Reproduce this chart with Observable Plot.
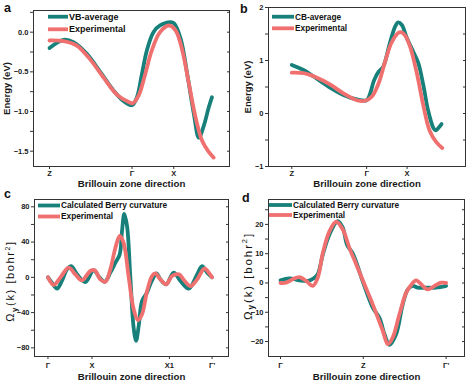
<!DOCTYPE html>
<html><head><meta charset="utf-8">
<script src="https://cdn.jsdelivr.net/npm/d3@7"></script>
<script src="https://cdn.jsdelivr.net/npm/@observablehq/plot@0.6"></script>
<style>
body{margin:0;background:#fff;}
#fig{position:relative;width:472px;height:387px;overflow:hidden;font-family:"Liberation Sans",Arial,sans-serif;}
#fig svg{position:absolute;}
</style></head><body><div id="fig"></div>
<script>
const TEAL = "#17807a", RED = "#f07070", AXIS = "#333";

// ---- Panel a: VB-average vs experimental (energy, eV) ----
const aKPos = [0, 1, 1.506];
const aKLab = ["Z", "Γ", "X"];
const aYMajor = [0, -0.5, -1.0, -1.5];
const aYMinor = [0.25, -0.25, -0.75, -1.25];
const vbK = [0, 0.17, 0.29, 0.45, 0.615, 0.78, 0.90, 1.0, 1.06, 1.12, 1.18, 1.26, 1.34, 1.47, 1.51, 1.59, 1.67, 1.75, 1.81, 1.87, 1.93, 1.97];
const vbE = [-0.20, -0.097, -0.126, -0.27, -0.50, -0.74, -0.87, -0.92, -0.82, -0.53, -0.23, 0.0, 0.084, 0.126, 0.11, -0.084, -0.53, -1.03, -1.33, -1.18, -0.95, -0.82];
const expAK = [0, 0.17, 0.33, 0.49, 0.66, 0.82, 0.96, 1.01, 1.08, 1.16, 1.24, 1.34, 1.45, 1.53, 1.61, 1.69, 1.77, 1.85, 1.93, 1.99];
const expAE = [-0.105, -0.113, -0.17, -0.34, -0.58, -0.79, -0.88, -0.895, -0.80, -0.53, -0.23, 0.0, 0.084, 0.02, -0.23, -0.65, -1.07, -1.37, -1.51, -1.58];

// ---- Panel b: CB-average vs experimental ----
const bKPos = [0, 1, 1.54];
const bKLab = ["Z", "Γ", "X"];
const bYMajor = [2, 1, 0, -1];
const bYMinor = [1.5, 0.5, -0.5];
const cbK = [0, 0.156, 0.33, 0.51, 0.69, 0.87, 1.0, 1.04, 1.10, 1.16, 1.22, 1.31, 1.38, 1.42, 1.47, 1.53, 1.62, 1.69, 1.76, 1.82, 1.89, 1.92, 1.96, 2.0];
const cbE = [0.916, 0.82, 0.66, 0.49, 0.35, 0.265, 0.25, 0.35, 0.63, 0.79, 0.88, 1.33, 1.64, 1.72, 1.67, 1.45, 1.17, 0.95, 0.51, 0.06, -0.27, -0.32, -0.27, -0.20];
const expBK = [0, 0.156, 0.33, 0.51, 0.69, 0.87, 0.98, 1.07, 1.16, 1.24, 1.33, 1.42, 1.46, 1.51, 1.58, 1.67, 1.76, 1.84, 1.93, 2.01];
const expBE = [0.77, 0.76, 0.68, 0.55, 0.38, 0.25, 0.24, 0.32, 0.57, 0.95, 1.33, 1.52, 1.535, 1.48, 1.26, 0.76, 0.13, -0.32, -0.54, -0.65];

// ---- Panel c: Berry curvature Γ–X–X1–Γ' ----
const cKPos = [0, 26.8, 74, 100];
const cKLab = ["Γ", "X", "X1", "Γ'"];
const cYMajor = [80, 40, 0, -40, -80];
const cYMinor = [60, 20, -20, -60];
const berryCK = [0, 2.4, 5.5, 8.5, 11.6, 14.2, 17.7, 22.8, 27.8, 31.5, 34.6, 38.0, 41.1, 43.7, 45.1, 46.5, 48.2, 50.2, 52.2, 53.7, 55.3, 57.3, 60.4, 63.4, 66.1, 68.5, 72, 76.6, 80.7, 85.8, 90.9, 93.9, 97, 100];
const berryCV = [0, -6, -12.8, -4, 9, 12.8, 3.4, -5.3, 8, -0.4, -5, 5.3, 16.6, 26, 52, 72, 58, 0, -57, -72, -55, -27, -17, -3.4, 4.5, -2.3, -8, 5.3, -4, -12.8, 3.4, 12.8, 5.3, 0];
const expCK = [0, 3.5, 7.5, 12.6, 16.7, 20.7, 25.8, 28.5, 31.9, 35, 38.0, 41.1, 43.7, 46.1, 49.2, 52.2, 54.9, 57.3, 60.4, 63.4, 65.4, 68.5, 72, 75.6, 79.7, 83.7, 86.8, 90.9, 95.3, 98, 100];
const expCV = [0, -8.5, -0.4, 11, 3.4, -3.4, 7.2, 8, -2.3, -5, 9, 33.6, 47, 39, 0, -36, -48.7, -42, -15.5, 1.5, 4.5, -2.3, -8, 1.5, 3.4, -5, -10, -2.3, 10, 5.3, 0];

// ---- Panel d: Berry curvature Γ–Z–Γ' ----
const dKPos = [0, 50, 100];
const dKLab = ["Γ", "Z", "Γ'"];
const dYMajor = [20, 10, 0, -10, -20];
const dYMinor = [25, 15, 5, -5, -15];
const berryDK = [0, 5.4, 11.5, 16.5, 20.1, 22.5, 25.6, 29.6, 34.6, 37.6, 40.2, 43.7, 49.7, 55.7, 59.8, 62.8, 65.8, 69.8, 73.8, 76.9, 79.9, 82.9, 87.9, 93.9, 100];
const berryDV = [0.9, 1.6, 0.9, 0.7, 1.6, 3, 9.8, 16.6, 21.1, 18.9, 13, 10, 0.5, -8.4, -12, -17.5, -21.1, -17.5, -7.3, -2.2, -1, -1.6, -1.6, -1.6, -1];
const expDK = [0, 3.4, 7.4, 11.5, 15.5, 19.5, 22.5, 25.6, 29.6, 33.6, 37.6, 41.6, 45.7, 49.7, 55.7, 61.8, 64.8, 67.8, 71.8, 75.9, 78.9, 81.9, 85.9, 88.9, 93.9, 96.9, 100];
const expDV = [0, 0.1, 1.3, 2, 0.7, -1, 1.8, 10.3, 17.7, 20.9, 18.3, 12, 6.4, 0.9, -7.3, -16.4, -20.9, -18.6, -10.7, -3.3, -0.7, 0.9, -1, -2.2, -0.7, 0.1, 0];

const xTitle = "Brillouin zone direction";
const zip = (a, b) => a.map((v, i) => [v, b[i]]);
const fig = document.getElementById("fig");

function makePanel(o) {
  const p = Plot.plot({
    width: o.w, height: o.h,
    marginLeft: o.ml, marginRight: o.mr, marginTop: o.mt, marginBottom: o.mb,
    style: {fontFamily: '"Liberation Sans", Arial, sans-serif', fontWeight: "bold", color: "#1a1a1a", background: "transparent", overflow: "visible"},
    x: {domain: o.xDom},
    y: {domain: o.yDom},
    marks: [
      Plot.frame({stroke: AXIS, strokeWidth: 1}),
      Plot.axisY({ticks: o.yMajor, tickSize: 3, tickPadding: 2, stroke: AXIS, tickFormat: o.yFmt, fontSize: 7.5, label: null}),
      Plot.axisY({ticks: o.yMinor, tickSize: 3, stroke: AXIS, fill: "none"}),
      Plot.axisY({anchor: "right", ticks: o.yMajor.concat(o.yMinor), tickSize: 3, dx: -3, stroke: AXIS, fill: "none"}),
      Plot.axisX({ticks: o.kPos, tickSize: 3, tickPadding: o.xPad, stroke: AXIS, tickFormat: d => o.kLab[o.kPos.indexOf(d)], fontSize: 7.5, label: null}),
      Plot.axisX({ticks: [], tickSize: 0, label: xTitle, labelAnchor: "center", labelOffset: o.xLabOff, labelArrow: "none", fontSize: 9.7}),
      o.yLabel ? Plot.axisY({ticks: [], tickSize: 0, label: o.yLabel, labelAnchor: "center", labelOffset: o.yLabOff, labelArrow: "none", fontSize: 9.5}) : null,
      Plot.line(zip(o.k1, o.v1), {stroke: TEAL, strokeWidth: 3.8, curve: "catmull-rom"}),
      Plot.line(zip(o.k2, o.v2), {stroke: RED, strokeWidth: 3.8, curve: "catmull-rom"})
    ]
  });
  p.style.left = o.left + "px";
  p.style.top = o.top + "px";
  fig.appendChild(p);
  return p;
}

makePanel({left: 0, top: 0, w: 236, h: 194, ml: 33, mr: 7, mt: 10, mb: 28,
  xDom: [-0.194, 2.182], yDom: [-1.693, 0.273], yMajor: aYMajor, yMinor: aYMinor, yFmt: d3.format(".1f"),
  kPos: aKPos, kLab: aKLab, xPad: 1, xLabOff: 20, yLabel: "Energy (eV)", yLabOff: 30,
  k1: vbK, v1: vbE, k2: expAK, v2: expAE});
makePanel({left: 236, top: 0, w: 236, h: 194, ml: 32, mr: 7, mt: 7, mb: 28,
  xDom: [-0.311, 2.32], yDom: [-1, 2], yMajor: bYMajor, yMinor: bYMinor, yFmt: d3.format("d"),
  kPos: bKPos, kLab: bKLab, xPad: 1, xLabOff: 20, yLabel: "Energy (eV)", yLabOff: 24,
  k1: cbK, v1: cbE, k2: expBK, v2: expBE});
makePanel({left: 0, top: 194, w: 236, h: 193, ml: 34, mr: 8, mt: 5, mb: 31,
  xDom: [-8.2, 110], yDom: [-89.8, 88.3], yMajor: cYMajor, yMinor: cYMinor, yFmt: d3.format("d"),
  kPos: cKPos, kLab: cKLab, xPad: 3, xLabOff: 23, yLabel: null,
  k1: berryCK, v1: berryCV, k2: expCK, v2: expCV});
makePanel({left: 236, top: 194, w: 236, h: 193, ml: 32, mr: 8, mt: 5, mb: 31,
  xDom: [-7.24, 111.1], yDom: [-25.1, 28.5], yMajor: dYMajor, yMinor: dYMinor, yFmt: d3.format("d"),
  kPos: dKPos, kLab: dKLab, xPad: 3, xLabOff: 23, yLabel: null,
  k1: berryDK, v1: berryDV, k2: expDK, v2: expDV});

// ---- overlay: panel letters, legends, Ω labels ----
const ov = d3.select(fig).append("svg").attr("width", 472).attr("height", 387)
  .style("left", "0px").style("top", "0px")
  .attr("font-family", '"Liberation Sans", Arial, sans-serif').attr("font-weight", "bold").attr("fill", "#111");

const letters = [["a", 4, 12], ["b", 240, 12.7], ["c", 4, 197.5], ["d", 242, 202]];
letters.forEach(([t, x, y]) => ov.append("text").attr("x", x).attr("y", y).attr("font-size", 12.5).text(t));

const legends = [
  {x1: 48, x2: 68, y: [16.7, 29.3], fs: 9, names: ["VB-average", "Experimental"]},
  {x1: 272, x2: 294, y: [16.7, 28.3], fs: 8.3, names: ["CB-average", "Experimental"]},
  {x1: 38, x2: 60, y: [205.5, 216.5], fs: 8.3, names: ["Calculated Berry curvature", "Experimental"]},
  {x1: 269, x2: 292, y: [205, 215], fs: 8.3, names: ["Calculated Berry curvature", "Experimental"]}
];
legends.forEach(L => {
  [TEAL, RED].forEach((c, i) => {
    ov.append("line").attr("x1", L.x1).attr("x2", L.x2).attr("y1", L.y[i]).attr("y2", L.y[i])
      .attr("stroke", c).attr("stroke-width", 3.8);
    ov.append("text").attr("x", L.x2 + 1).attr("y", L.y[i]).attr("dy", "0.35em")
      .attr("font-size", L.fs).text(L.names[i]);
  });
});

function omegaLabel(cx, cy, fs, ls) {
  const t = ov.append("text").attr("transform", `translate(${cx},${cy}) rotate(-90)`)
    .attr("text-anchor", "middle").attr("dy", "0.35em").attr("font-size", fs)
    .attr("font-weight", "normal").attr("letter-spacing", ls);
  t.append("tspan").text("Ω");
  t.append("tspan").attr("font-size", fs * 0.72).attr("font-weight", "bold").attr("dy", fs * 0.25).text("y");
  t.append("tspan").attr("dy", -fs * 0.25).text("(k) [bohr");
  t.append("tspan").attr("font-size", fs * 0.65).attr("dy", -fs * 0.38).text("2");
  t.append("tspan").attr("dy", fs * 0.38).text("]");
}
omegaLabel(10, 281, 11, 1.6);
omegaLabel(247.5, 276, 11.5, 1.9);
</script></body></html>
